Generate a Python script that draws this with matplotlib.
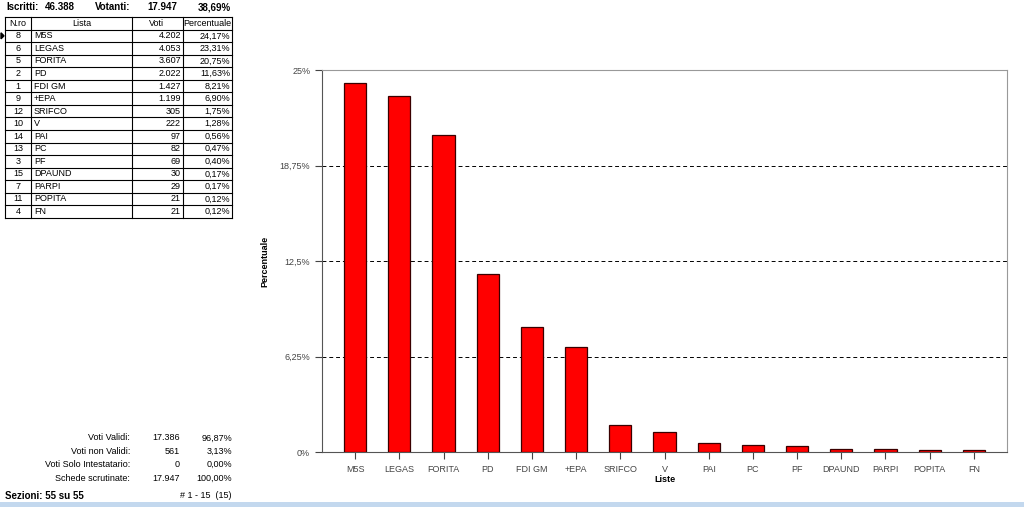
import matplotlib.pyplot as plt
from matplotlib.lines import Line2D
from matplotlib.patches import Rectangle, Polygon

plt.rcParams['font.family'] = ['Liberation Sans', 'DejaVu Sans']

# Dati
numeri = [8, 6, 5, 2, 1, 9, 12, 10, 14, 13, 3, 15, 7, 11, 4]
liste = ['M5S', 'LEGAS', 'FORITA', 'PD', 'FDI GM', '+EPA', 'SRIFCO', 'V',
         'PAI', 'PC', 'PF', 'DPAUND', 'PARPI', 'POPITA', 'FN']
voti = ['4.202', '4.053', '3.607', '2.022', '1.427', '1.199', '305', '222',
        '97', '82', '69', '30', '29', '21', '21']
percentuali = [24.17, 23.31, 20.75, 11.63, 8.21, 6.90, 1.75, 1.28,
               0.56, 0.47, 0.40, 0.17, 0.17, 0.12, 0.12]

riepilogo_label = ['Voti Validi:', 'Voti non Validi:', 'Voti Solo Intestatario:', 'Schede scrutinate:']
riepilogo_voti = ['17.386', '561', '0', '17.947']
riepilogo_perc = ['96,87%', '3,13%', '0,00%', '100,00%']

y_ticks = [0, 6.25, 12.5, 18.75, 25]
y_tick_labels = ['0%', '6,25%', '12,5%', '18,75%', '25%']

W, H = 1024, 507
fig = plt.figure(figsize=(W / 100, H / 100), dpi=100)
fig.patch.set_facecolor('white')


def px(x, y):
    return x / W, 1 - y / H


def text(x, y, s, **kw):
    kw.setdefault('fontsize', 6.5)
    kw.setdefault('va', 'center')
    kw.setdefault('color', 'black')
    fig.text(*px(x, y), s, **kw)


def line(x0, y0, x1, y1, color='black', lw=0.8):
    a, b = px(x0, y0)
    c, d = px(x1, y1)
    fig.add_artist(Line2D([a, c], [b, d], transform=fig.transFigure, color=color, lw=lw))


# Intestazione
text(6, 7, 'Iscritti:', fontweight='bold', fontsize=7)
text(45, 7, '46.388', fontweight='bold', fontsize=7)
text(95, 7, 'Votanti:', fontweight='bold', fontsize=7)
text(177, 7, '17.947', fontweight='bold', fontsize=7, ha='right')
text(231, 7, '38,69%', fontweight='bold', fontsize=7, ha='right')

# Tabella
cols = [5, 31, 132, 183, 232]
top, row_h = 17, 12.55
n_rows = len(liste) + 1
bottom = top + row_h * n_rows
for c in cols:
    line(c, top, c, bottom)
for i in range(n_rows + 1):
    line(cols[0], top + i * row_h, cols[-1], top + i * row_h)

yh = top + row_h / 2
text(18, yh, 'N.ro', ha='center')
text(82, yh, 'Lista', ha='center')
text(157, yh, 'Voti', ha='center')
text(207, yh, 'Percentuale', ha='center')
for i in range(len(liste)):
    yc = top + row_h * (i + 1.5)
    text(18, yc, str(numeri[i]), ha='center')
    text(34, yc, liste[i])
    text(181, yc, voti[i], ha='right')
    text(230, yc, f'{percentuali[i]:.2f}'.replace('.', ',') + '%', ha='right')

# indicatore di riga
tri = [px(1, top + row_h * 1.5 - 3), px(1, top + row_h * 1.5 + 3), px(4, top + row_h * 1.5)]
fig.add_artist(Polygon(tri, closed=True, transform=fig.transFigure, color='black'))

# Riepilogo
for i in range(len(riepilogo_label)):
    yc = 438 + i * 13.4
    text(130, yc, riepilogo_label[i], ha='right')
    text(180, yc, riepilogo_voti[i], ha='right')
    text(232, yc, riepilogo_perc[i], ha='right')

text(5, 496, 'Sezioni: 55 su 55', fontweight='bold', fontsize=7)
text(232, 496, '# 1 - 15  (15)', ha='right')

# barra inferiore
fig.add_artist(Rectangle(px(0, 507), 1, 5 / H, transform=fig.transFigure,
                         color='#c3d8ee', lw=0))

# Grafico
ax = fig.add_axes([322 / W, 1 - 452 / H, (1007 - 322) / W, (452 - 70) / H])
x = range(len(liste))
ax.bar(x, percentuali, width=0.5, color='#ff0000', edgecolor='#3a0000', linewidth=0.9, zorder=3)
ax.set_xlim(-0.75, len(liste) - 0.25)
ax.set_ylim(0, 25)
ax.set_yticks(y_ticks)
ax.set_yticklabels(y_tick_labels)
ax.set_xticks(list(x))
ax.set_xticklabels(liste)
for yv in y_ticks[1:-1]:
    ax.axhline(yv, color='black', lw=0.7, ls=(0, (4, 3)), zorder=1)
ax.tick_params(axis='both', labelsize=6.5, colors='#444444', length=5, width=0.8)
ax.tick_params(axis='x', pad=4)
for s in ['left', 'bottom']:
    ax.spines[s].set_color('#555555')
for s in ['top', 'right']:
    ax.spines[s].set_color('#999999')
ax.set_xlabel('Liste', fontsize=6.5, fontweight='bold', labelpad=1)
ax.set_ylabel('Percentuale', fontsize=6.5, fontweight='bold', labelpad=7)

fig.savefig('out.png', dpi=100)
